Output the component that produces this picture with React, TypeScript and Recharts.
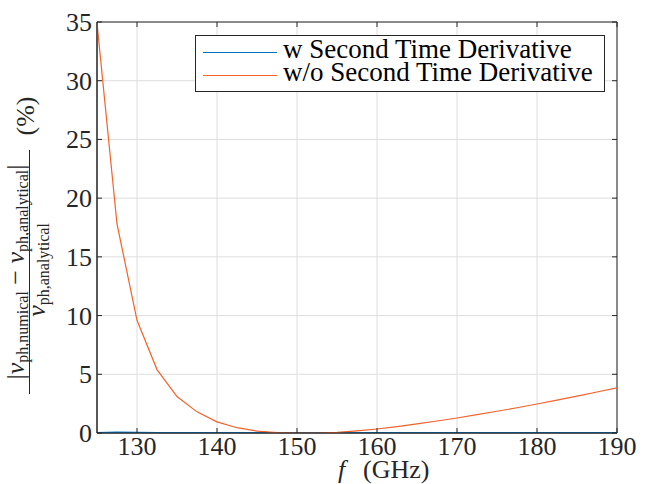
import { CartesianGrid, Legend, Line, LineChart, ReferenceArea, XAxis, YAxis } from 'recharts';

const freqs = [
  125, 127.5, 130, 132.5, 135, 137.5, 140, 142.5, 145, 147.5, 150, 152.5, 155, 157.5, 160, 162.5, 165,
  167.5, 170, 172.5, 175, 177.5, 180, 182.5, 185, 187.5, 190,
];
// w Second Time Derivative (sits on the axis)
const withSecond = [
  0.02, 0.06, 0.04, 0.02, 0.01, 0.01, 0.01, 0.01, 0.01, 0.01, 0.01, 0.01, 0.01, 0.01, 0.01, 0.01, 0.01,
  0.01, 0.01, 0.01, 0.01, 0.01, 0.01, 0.01, 0.01, 0.01, 0.01,
];
// w/o Second Time Derivative
const withoutSecond = [
  34.9, 17.8, 9.6, 5.4, 3.1, 1.8, 0.95, 0.45, 0.16, 0.03, 0, 0, 0.05, 0.18, 0.34, 0.55, 0.77, 1.02,
  1.28, 1.56, 1.85, 2.15, 2.47, 2.8, 3.14, 3.49, 3.85,
];
const xTicks = [130, 140, 150, 160, 170, 180, 190];
const yTicks = [0, 5, 10, 15, 20, 25, 30, 35];

const data = freqs.map((f, i) => ({ f, w: withSecond[i], wo: withoutSecond[i] }));

const SERIF = '"Liberation Serif", "Times New Roman", serif';
const AXIS = '#262626';
const PLOT_TOP = 22;
const PLOT_RIGHT = 617;

function XTick({ x, y, payload }: any) {
  return (
    <g>
      <line x1={x} x2={x} y1={y} y2={y - 5} stroke={AXIS} />
      <line x1={x} x2={x} y1={PLOT_TOP} y2={PLOT_TOP + 5} stroke={AXIS} />
      <text x={x} y={y + 22} textAnchor="middle" fontFamily={SERIF} fontSize={26} fill={AXIS}>
        {payload.value}
      </text>
    </g>
  );
}

function YTick({ x, y, payload }: any) {
  return (
    <g>
      <line x1={x} x2={x + 5} y1={y} y2={y} stroke={AXIS} />
      <line x1={PLOT_RIGHT} x2={PLOT_RIGHT - 5} y1={y} y2={y} stroke={AXIS} />
      <text x={x - 5} y={y + 9} textAnchor="end" fontFamily={SERIF} fontSize={26} fill={AXIS}>
        {payload.value}
      </text>
    </g>
  );
}

function YLabel() {
  return (
    <g fontFamily={SERIF} fill={AXIS}>
      <text transform="translate(24,272) rotate(-90)" textAnchor="middle" fontSize={26}>
        <tspan>|</tspan>
        <tspan fontStyle="italic">v</tspan>
        <tspan fontSize={16} dy={4}>ph,numical</tspan>
        <tspan dy={-4}> − </tspan>
        <tspan fontStyle="italic">v</tspan>
        <tspan fontSize={16} dy={4}>ph,analytical</tspan>
        <tspan dy={-4}>|</tspan>
      </text>
      <line x1={29.5} x2={29.5} y1={150} y2={394} stroke={AXIS} strokeWidth={1} />
      <text transform="translate(45,270) rotate(-90)" textAnchor="middle" fontSize={26}>
        <tspan fontStyle="italic">v</tspan>
        <tspan fontSize={16} dy={4}>ph,analytical</tspan>
      </text>
      <text transform="translate(34,116) rotate(-90)" textAnchor="middle" fontSize={26}>
        (%)
      </text>
    </g>
  );
}

function XLabel() {
  return (
    <text y={478} fontFamily={SERIF} fontSize={26} fill={AXIS}>
      <tspan x={338} fontStyle="italic">f</tspan>
      <tspan x={363}>(GHz)</tspan>
    </text>
  );
}

function LegendBox({ payload }: any) {
  return (
    <div
      style={{
        width: 410,
        height: 57,
        boxSizing: 'border-box',
        border: `1px solid ${AXIS}`,
        background: '#fff',
        paddingTop: 4.5,
        fontFamily: SERIF,
        fontSize: 27,
        color: '#000',
      }}
    >
      {(payload || []).map((entry: any) => (
        <div key={entry.value} style={{ display: 'flex', alignItems: 'center', height: 23, lineHeight: '23px' }}>
          <div style={{ marginLeft: 7, width: 74, borderTop: `1.5px solid ${entry.color}` }} />
          <span style={{ marginLeft: 6, position: 'relative', top: -2.5, whiteSpace: 'nowrap' }}>{entry.value}</span>
        </div>
      ))}
    </div>
  );
}

export default function App() {
  return (
    <div style={{ position: 'absolute', left: 0, top: 0, width: 646, height: 484, background: '#fff' }}>
      <LineChart width={646} height={484} data={data} margin={{ top: PLOT_TOP, right: 646 - PLOT_RIGHT, bottom: 0, left: 0 }}>
        <CartesianGrid stroke="#dedede" strokeWidth={1} />
        <ReferenceArea x1={125} x2={190} y1={0} y2={35} fill="none" stroke={AXIS} strokeWidth={1} />
        <XAxis
          type="number"
          dataKey="f"
          domain={[125, 190]}
          ticks={xTicks}
          allowDataOverflow
          height={51}
          tickSize={0}
          tickMargin={0}
          stroke={AXIS}
          tick={<XTick />}
          label={{ content: () => <XLabel /> }}
        />
        <YAxis
          type="number"
          domain={[0, 35]}
          ticks={yTicks}
          allowDataOverflow
          width={97}
          tickSize={0}
          tickMargin={0}
          stroke={AXIS}
          tick={<YTick />}
          label={{ content: () => <YLabel /> }}
        />
        <Line
          type="linear"
          dataKey="w"
          name="w Second Time Derivative"
          stroke="#0072BD"
          strokeWidth={1.6}
          dot={false}
          isAnimationActive={false}
        />
        <Line
          type="linear"
          dataKey="wo"
          name="w/o Second Time Derivative"
          stroke="#F4622A"
          strokeWidth={1.2}
          dot={false}
          isAnimationActive={false}
        />
        <Legend
          layout="vertical"
          align="center"
          verticalAlign="middle"
          wrapperStyle={{ left: 195, top: 35, width: 410 }}
          content={<LegendBox />}
        />
      </LineChart>
    </div>
  );
}
